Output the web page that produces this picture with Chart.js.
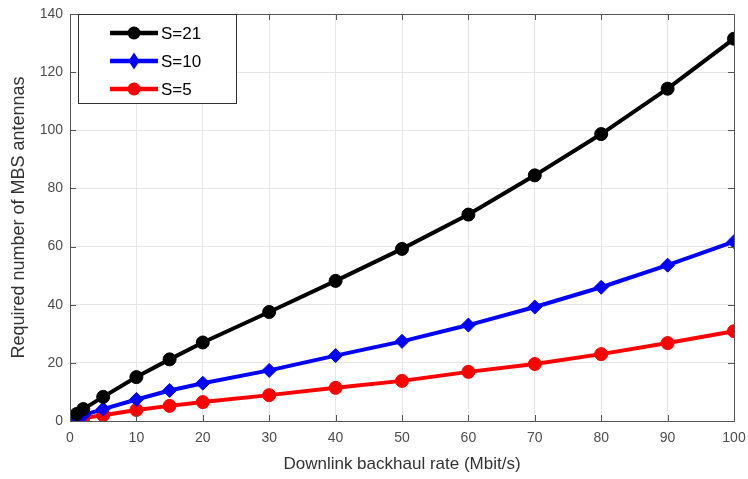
<!DOCTYPE html>
<html>
<head>
<meta charset="utf-8">
<script src="https://cdn.jsdelivr.net/npm/chart.js@4"></script>
<style>
  html, body { margin: 0; padding: 0; background: #fff; }
  #wrap { width: 748px; height: 479px; }
</style>
</head>
<body>
<div id="wrap"><canvas id="chart" width="748" height="479"></canvas></div>
<script>
// Data
const rates = [1, 2, 5, 10, 15, 20, 30, 40, 50, 60, 70, 80, 90, 100];
const s21 = [2.4, 4.1, 8.3, 15.1, 21.2, 27.0, 37.5, 48.2, 59.2, 71.0, 84.5, 98.7, 114.3, 131.5];
const s10 = [1.0, 2.0, 4.1, 7.4, 10.5, 13.0, 17.4, 22.5, 27.4, 33.0, 39.2, 46.0, 53.6, 61.7];
const s5 = [0.7, 1.0, 2.0, 3.8, 5.2, 6.5, 8.9, 11.4, 13.8, 16.9, 19.6, 23.0, 26.8, 30.9];
const seriesNames = ["S=21", "S=10", "S=5"];

const FONT = "'Liberation Sans', Arial, sans-serif";

function pts(ys) {
    return rates.map((x, i) => ({ x: x, y: ys[i] }));
}

function series(label, ys, color, shape, radius) {
    return {
        label: label,
        data: pts(ys),
        borderColor: color,
        backgroundColor: color,
        borderWidth: 4,
        pointStyle: shape,
        pointRadius: radius,
        pointHoverRadius: radius,
        pointBorderWidth: 1,
        tension: 0
    };
}

// MATLAB-like box, inward ticks and legend
const matlabBox = {
    id: "matlabBox",
    afterDraw(chart) {
        const ctx = chart.ctx;
        const a = chart.chartArea;
        const xs = chart.scales.x, ys = chart.scales.y;
        ctx.save();
        ctx.strokeStyle = "#555";
        ctx.lineWidth = 1;
        ctx.beginPath();
        xs.ticks.forEach(t => {
            const px = Math.round(xs.getPixelForValue(t.value)) + 0.5;
            ctx.moveTo(px, a.bottom); ctx.lineTo(px, a.bottom - 6);
            ctx.moveTo(px, a.top); ctx.lineTo(px, a.top + 6);
        });
        ys.ticks.forEach(t => {
            const py = Math.round(ys.getPixelForValue(t.value)) + 0.5;
            ctx.moveTo(a.left, py); ctx.lineTo(a.left + 6, py);
            ctx.moveTo(a.right, py); ctx.lineTo(a.right - 6, py);
        });
        ctx.stroke();
        ctx.strokeRect(Math.round(a.left) + 0.5, Math.round(a.top) + 0.5,
            Math.round(a.right - a.left), Math.round(a.bottom - a.top));

        // legend
        const lx = 78, ly = 14, lw = 158, lh = 89;
        ctx.fillStyle = "#fff";
        ctx.fillRect(lx, ly, lw, lh);
        ctx.strokeStyle = "#333";
        ctx.strokeRect(lx + 0.5, ly + 0.5, lw, lh);
        chart.data.datasets.forEach((ds, i) => {
            const cy = ly + 19 + i * 28;
            ctx.strokeStyle = ds.borderColor;
            ctx.lineWidth = 4.5;
            ctx.beginPath();
            ctx.moveTo(110, cy); ctx.lineTo(158, cy);
            ctx.stroke();
            ctx.fillStyle = ds.backgroundColor;
            ctx.beginPath();
            if (ds.pointStyle === "rectRot") {
                ctx.moveTo(134, cy - 8.5); ctx.lineTo(139.5, cy);
                ctx.lineTo(134, cy + 8.5); ctx.lineTo(128.5, cy);
                ctx.closePath();
            } else {
                ctx.arc(134, cy, 6.5, 0, Math.PI * 2);
            }
            ctx.fill();
            ctx.fillStyle = "#000";
            ctx.font = "17px " + FONT;
            ctx.textBaseline = "middle";
            ctx.fillText(ds.label, 161, cy + 1);
        });
        ctx.restore();
    }
};

new Chart(document.getElementById("chart"), {
    type: "line",
    data: {
        datasets: [
            series(seriesNames[0], s21, "#000000", "circle", 6.5),
            series(seriesNames[1], s10, "#0000ff", "rectRot", 7),
            series(seriesNames[2], s5, "#ff0000", "circle", 6.5)
        ]
    },
    options: {
        responsive: false,
        animation: false,
        layout: { padding: { top: 14, right: 14, left: 0, bottom: 0 } },
        plugins: {
            legend: { display: false },
            tooltip: { enabled: false }
        },
        scales: {
            x: {
                type: "linear",
                min: 0,
                max: 100,
                afterFit: s => { s.height = 58; s.paddingLeft = 0; s.paddingRight = 0; },
                ticks: { stepSize: 10, color: "#4d4d4d", font: { family: FONT, size: 14 }, padding: 9 },
                grid: { color: "#e6e6e6", drawTicks: false },
                border: { display: false },
                title: { display: true, text: "Downlink backhaul rate (Mbit/s)", color: "#333", font: { family: FONT, size: 17 }, padding: { top: 5 } }
            },
            y: {
                min: 0,
                max: 140,
                afterFit: s => { s.width = 70; s.paddingTop = 0; s.paddingBottom = 0; },
                ticks: { stepSize: 20, color: "#4d4d4d", font: { family: FONT, size: 14 }, padding: 7 },
                grid: { color: "#e6e6e6", drawTicks: false },
                border: { display: false },
                title: { display: true, text: "Required number of MBS antennas", color: "#333", font: { family: FONT, size: 18 }, padding: { top: 8, bottom: 0 } }
            }
        }
    },
    plugins: [matlabBox]
});
</script>
</body>
</html>
